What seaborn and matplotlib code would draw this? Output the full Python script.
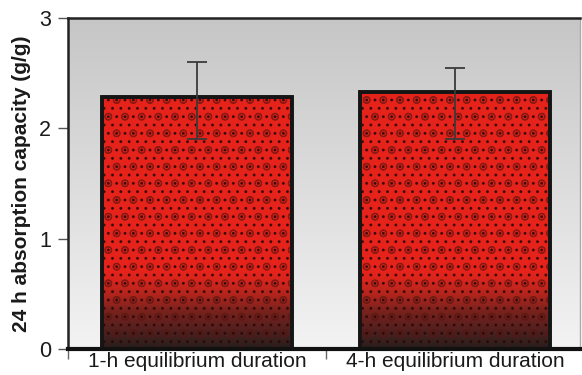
import numpy as np
import pandas as pd
import matplotlib
matplotlib.use("Agg")
import matplotlib.pyplot as plt
import seaborn as sns
from matplotlib.colors import LinearSegmentedColormap

categories = ["1-h equilibrium duration", "4-h equilibrium duration"]
values = [2.28, 2.33]
err_low = [1.90, 1.90]
err_high = [2.60, 2.55]
y_ticks = [0, 1, 2, 3]
y_label = "24 h absorption capacity (g/g)"

sns.set_theme(style="white")
plt.rcParams["font.family"] = ["Liberation Sans", "DejaVu Sans"]
plt.rcParams["hatch.linewidth"] = 0.9

df = pd.DataFrame({"cat": categories, "val": values})

fig = plt.figure(figsize=(5.82, 3.75), dpi=100)
ax = fig.add_axes([0.1168, 0.0693, 0.8798, 0.8827])

# background gradient
bg = LinearSegmentedColormap.from_list("bg", ["#f3f3f3", "#c6c6c6"])
grad = np.linspace(0, 1, 256).reshape(-1, 1)
ax.imshow(grad, cmap=bg, extent=[0, 1, 0, 1], transform=ax.transAxes,
          aspect="auto", origin="lower", zorder=0)

sns.barplot(data=df, x="cat", y="val", ax=ax, color="#e6231b", width=0.735,
            edgecolor="#151515", linewidth=2.6, saturation=1, zorder=2)

ax.set_xlim(-0.5, 1.485)
ax.set_ylim(0, 3)

dark = LinearSegmentedColormap.from_list(
    "dk", [(0.12, 0.12, 0.12, 0.97), (0.2, 0.13, 0.12, 0.6), (0.5, 0.2, 0.15, 0.0)])
for p in list(ax.patches):
    x0, w = p.get_x(), p.get_width()
    h = p.get_height()
    # dark bottom gradient
    g = np.linspace(0, 1, 256).reshape(-1, 1)
    im = ax.imshow(g, cmap=dark, extent=[x0, x0 + w, 0, 0.7], aspect="auto",
                   origin="lower", zorder=2.5)
    im.set_clip_path(p)
    # texture: small dots
    hd = plt.Rectangle((x0, 0), w, h, facecolor="none", edgecolor="#2a0806",
                       linewidth=0, hatch="..", zorder=2.6, alpha=0.8)
    ax.add_patch(hd)
    # texture: sparse small circles
    hc = plt.Rectangle((x0, 0), w, h, facecolor="none", edgecolor="#5a1510",
                       linewidth=0, hatch="o", zorder=2.65, alpha=0.6)
    ax.add_patch(hc)
    # outline on top
    ol = plt.Rectangle((x0, 0), w, h, facecolor="none", edgecolor="#151515",
                       linewidth=2.6, zorder=2.8)
    ax.add_patch(ol)

centers = [p.get_x() + p.get_width() / 2 for p in ax.patches[:2]]
yerr = [np.array(values) - np.array(err_low), np.array(err_high) - np.array(values)]
ax.errorbar(centers, values, yerr=yerr, fmt="none", ecolor="#3a3a3a",
            elinewidth=1.3, capsize=7, capthick=1.3, zorder=3)

ax.set_xlabel("")
ax.set_ylabel(y_label, fontsize=15, fontweight="bold", color="#1a1a1a", labelpad=6)
ax.set_yticks(y_ticks)
ax.set_yticklabels([str(t) for t in y_ticks], fontsize=15.5, color="#1a1a1a")
ax.tick_params(axis="y", which="major", left=True, length=7, width=1.0,
               color="#555555", pad=5)
ax.set_xticks([0, 1])
ax.set_xticklabels(categories, fontsize=15, color="#1a1a1a")
ax.tick_params(axis="x", which="major", bottom=False, length=0, pad=2.5)
ax.set_xticks([-0.5, 0.5], minor=True)
ax.tick_params(axis="x", which="minor", bottom=True, length=7, width=1.0,
               color="#666666")

for s in ["left", "top"]:
    ax.spines[s].set_color("#222222")
    ax.spines[s].set_linewidth(1.8)
ax.spines["bottom"].set_color("#111111")
ax.spines["bottom"].set_linewidth(3)
ax.spines["right"].set_color("#aaaaaa")
ax.spines["right"].set_linewidth(1.0)
for s in ax.spines.values():
    s.set_zorder(5)

fig.savefig("out.png", dpi=100)
